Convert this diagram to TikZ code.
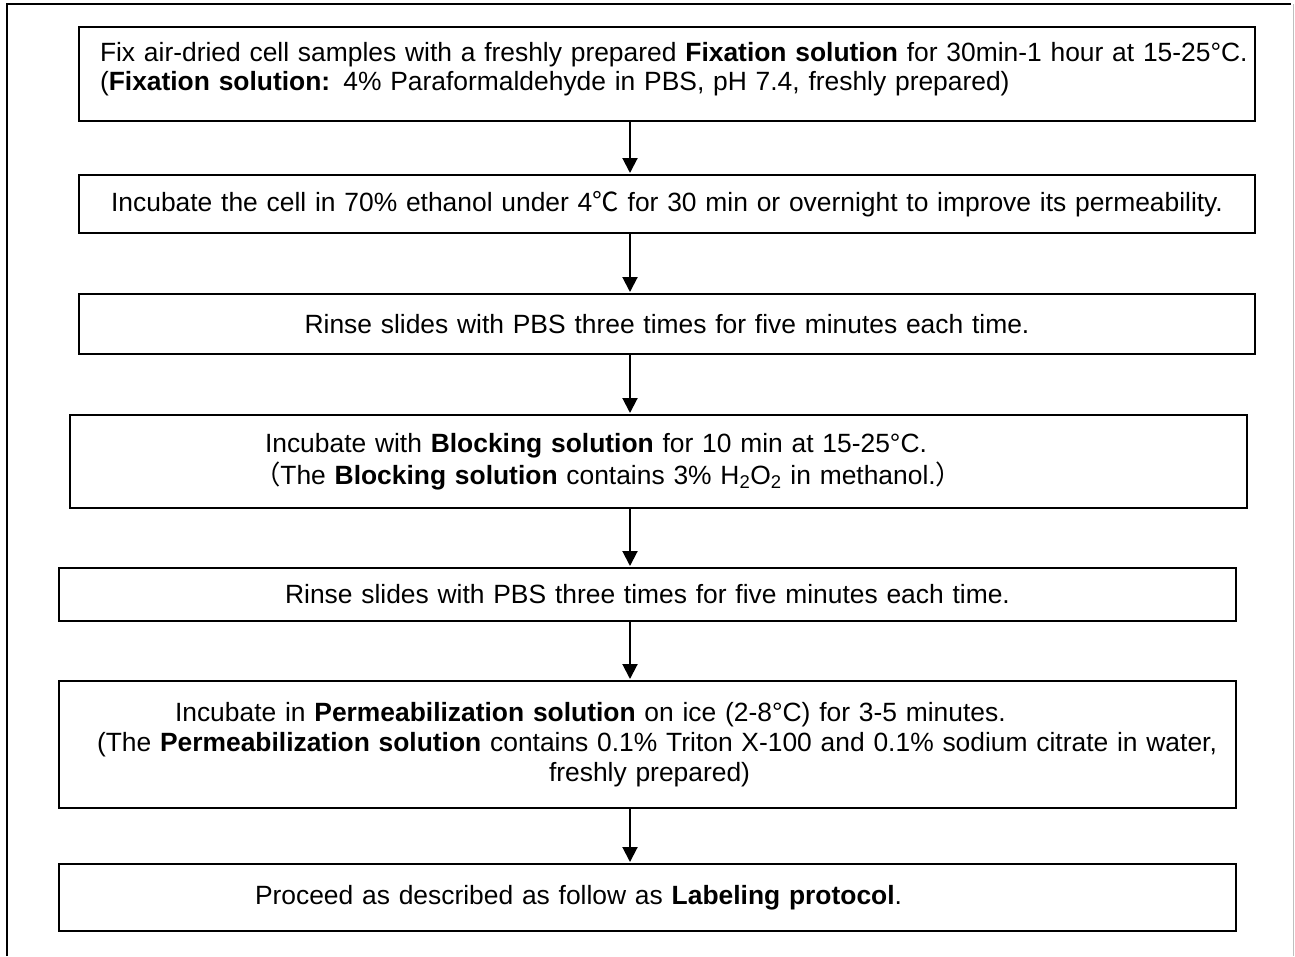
\documentclass[tikz,border=0pt]{standalone}
\usepackage{fontspec}
\setmainfont{Liberation Sans}
\newfontfamily\cjk{Noto Sans CJK SC}
\usetikzlibrary{arrows.meta}
\begin{document}
\begin{tikzpicture}[x=1pt,y=-1pt,
  stepbox/.style={draw, line width=1.5pt, inner xsep=0pt, inner ysep=0pt, outer sep=0pt, anchor=north west},
  flow/.style={line width=2pt, -{Triangle[width=15pt,length=15pt]}, shorten >=2pt, shorten <=1pt}]
\useasboundingbox (0,0) rectangle (1295,956);
% outer frame
\draw[line width=2pt] (7,956) -- (7,4) -- (1291,4);
\draw[line width=1pt, black!25] (1293,4) -- (1293,956);

\node[stepbox, text width=1176pt, minimum height=94pt, align=left, font=\fontsize{26.4}{29}\selectfont] (b1) at (79,27)
 {\hspace*{21pt}\mbox{Fix air-dried cell samples with a freshly prepared \textbf{Fixation solution} for 30min-1 hour at 15-25°C.}\\
  \hspace*{21pt}\mbox{(\textbf{Fixation solution:} 4\% Paraformaldehyde in PBS, pH 7.4, freshly prepared)}\rule[-16pt]{0pt}{16pt}};

\node[stepbox, text width=1176pt, minimum height=58pt, align=center, font=\fontsize{26.4}{30}\selectfont] (b2) at (79,175)
 {\mbox{Incubate the cell in 70\% ethanol under 4{\cjk ℃} for 30 min or overnight to improve its permeability.}};

\node[stepbox, text width=1176pt, minimum height=60pt, align=center, font=\fontsize{26.4}{30}\selectfont] (b3) at (79,294)
 {\mbox{Rinse slides with PBS three times for five minutes each time.}};

\node[stepbox, text width=1177pt, minimum height=93pt, align=left, font=\fontsize{26.4}{32}\selectfont] (b4) at (70,415)
 {\hspace*{195pt}\mbox{Incubate with \textbf{Blocking solution} for 10 min at 15-25°C.}\\
  \hspace*{184pt}\mbox{{\cjk （}The \textbf{Blocking solution} contains 3\% H\textsubscript{2}O\textsubscript{2} in methanol.{\cjk ）}}};

\node[stepbox, text width=1177pt, minimum height=53pt, align=center, font=\fontsize{26.4}{30}\selectfont] (b5) at (59,568)
 {\mbox{Rinse slides with PBS three times for five minutes each time.}};

\node[stepbox, text width=1177pt, minimum height=127pt, align=left, font=\fontsize{26.4}{30}\selectfont] (b6) at (59,681)
 {\hspace*{116pt}\mbox{Incubate in \textbf{Permeabilization solution} on ice (2-8°C) for 3-5 minutes.}\\
  \hspace*{38pt}\mbox{(The \textbf{Permeabilization solution} contains 0.1\% Triton X-100 and 0.1\% sodium citrate in water,}\\
  \hspace*{490pt}\mbox{freshly prepared)}};

\node[stepbox, text width=1177pt, minimum height=67pt, align=left, font=\fontsize{26.4}{30}\selectfont] (b7) at (59,864)
 {\hspace*{196pt}\mbox{Proceed as described as follow as \textbf{Labeling protocol}.}};

\coordinate (ax) at (630,0);
\draw[flow] (b1.south -| ax) -- (b2.north -| ax);
\draw[flow] (b2.south -| ax) -- (b3.north -| ax);
\draw[flow] (b3.south -| ax) -- (b4.north -| ax);
\draw[flow] (b4.south -| ax) -- (b5.north -| ax);
\draw[flow] (b5.south -| ax) -- (b6.north -| ax);
\draw[flow] (b6.south -| ax) -- (b7.north -| ax);
\end{tikzpicture}
\end{document}
